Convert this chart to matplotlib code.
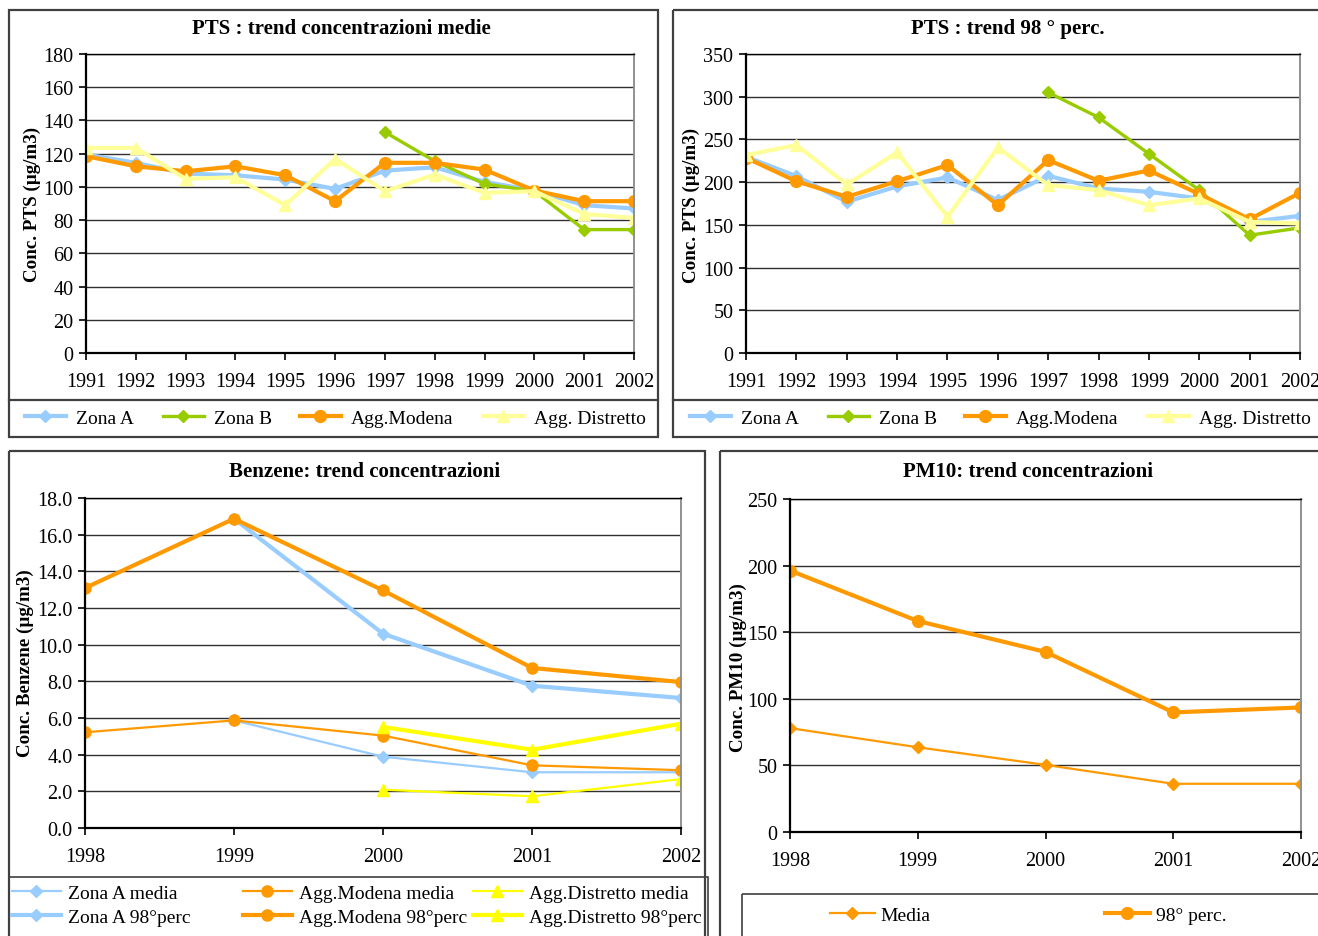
import numpy as np
import matplotlib
matplotlib.use("Agg")
import matplotlib.pyplot as plt
from matplotlib.patches import Rectangle
from matplotlib.legend import Legend

plt.rcParams['font.family'] = ['Liberation Serif', 'DejaVu Serif']

# ---- data -------------------------------------------------------------
years_pts = list(range(1991, 2003))
nan = np.nan

pts_mean_zona_a = [119.5, 114.5, 108, 107, 104.4, 98.8, 109.8, 111.8, 103, 97.8, 89, 87]
pts_mean_zona_b = [nan, nan, nan, nan, nan, nan, 133, 115.5, 101.8, 97.4, 74.3, 74.3]
pts_mean_modena = [118.5, 112.4, 109.4, 112.4, 107, 91.4, 114.5, 114.5, 110.4, 97.8, 91.4, 91.4]
pts_mean_distretto = [123.5, 123.5, 104.8, 105.8, 89, 116.9, 97.4, 107.4, 96.4, 97.4, 83.7, 81.3]

pts_p98_zona_a = [229.7, 207, 177, 195, 205.5, 179, 207.4, 192.6, 188.7, 180.9, 153.5, 160.5]
pts_p98_zona_b = [nan, nan, nan, nan, nan, nan, 305, 275.8, 233.2, 190.6, 137.9, 146.5]
pts_p98_modena = [228.5, 201, 182.8, 201, 220, 173, 225.8, 201.6, 213.7, 186, 156.6, 187.5]
pts_p98_distretto = [231.6, 243.4, 197.3, 234.8, 159.4, 240.6, 196.5, 190.6, 173, 180.9, 153.5, 151.6]

years_recent = [1998, 1999, 2000, 2001, 2002]
benz_zona_a_media = [nan, 5.87, 3.89, 3.04, 3.04]
benz_modena_media = [5.22, 5.87, 5.04, 3.42, 3.15]
benz_distretto_media = [nan, nan, 2.09, 1.73, 2.67]
benz_zona_a_p98 = [nan, 16.87, 10.6, 7.76, 7.09]
benz_modena_p98 = [13.09, 16.87, 12.96, 8.73, 7.96]
benz_distretto_p98 = [nan, nan, 5.51, 4.27, 5.69]

pm10_media = [78, 63.6, 50.4, 36.2, 36.2]
pm10_p98 = [196.3, 158.4, 135.2, 89.8, 93.5]

# ---- styling ----------------------------------------------------------
BLUE = '#99CCFF'
GREEN = '#99CC00'
ORANGE = '#FF9900'
PALE_YELLOW = '#FFFF99'
YELLOW = '#FFFF00'
FRAME = '#404040'

W, H = 1318, 937
fig = plt.figure(figsize=(W / 100, H / 100), dpi=100)


def px_rect(x0, y0, x1, y1):
    return [x0 / W, 1 - y1 / H, (x1 - x0) / W, (y1 - y0) / H]


def fig_pt(x, y):
    return (x / W, 1 - y / H)


# overlay used for the panel frames and the panel texts
ov = fig.add_axes([0, 0, 1, 1], zorder=-1)
ov.set_xlim(0, W)
ov.set_ylim(H, 0)
ov.axis('off')


def frame(x0, y0, x1, y1, lw=1.6):
    ov.add_patch(Rectangle((x0, y0), x1 - x0, y1 - y0, fill=False,
                           edgecolor=FRAME, lw=lw))


frame(9, 11, 658, 438)
ov.plot([9, 658], [401, 401], color=FRAME, lw=1.6)
frame(673, 11, 1330, 438)
ov.plot([673, 1330], [401, 401], color=FRAME, lw=1.6)
frame(9, 452, 705, 945)
frame(9, 878, 708, 945, lw=1.2)
frame(720, 452, 1330, 945)
frame(742, 895, 1330, 945, lw=1.2)

TICK_FS = 14.5
TITLE_FS = 15
YLAB_FS = 13.7
LEG_FS = 14


def style_axes(ax, ymax, ystep, xs, fmt=None):
    ax.set_xlim(xs[0], xs[-1])
    ax.set_ylim(0, ymax)
    ax.set_yticks(np.arange(0, ymax + ystep / 2, ystep))
    if fmt:
        ax.yaxis.set_major_formatter(plt.FormatStrFormatter(fmt))
    ax.set_xticks(xs)
    ax.set_xticklabels([str(x) for x in xs])
    ax.yaxis.grid(True, color='#303030', lw=1.0)
    ax.set_axisbelow(True)
    ax.spines['left'].set_color('black')
    ax.spines['left'].set_linewidth(1.6)
    ax.spines['bottom'].set_color('black')
    ax.spines['bottom'].set_linewidth(1.6)
    ax.spines['top'].set_color('black')
    ax.spines['top'].set_linewidth(1.0)
    ax.spines['right'].set_color('#909090')
    ax.spines['right'].set_linewidth(1.4)
    ax.tick_params(axis='both', direction='out', length=5, width=1.2,
                   labelsize=TICK_FS, colors='black')
    ax.tick_params(axis='x', pad=9)
    ax.tick_params(axis='y', pad=4)


def column_legends(ax, columns, lefts, y_center, handlelength=2.1,
                   handletextpad=0.5, labelspacing=0.3):
    """One legend per column, each anchored at its own left edge."""
    for handles, x in zip(columns, lefts):
        leg = Legend(ax, handles, [h.get_label() for h in handles],
                     loc='center left', bbox_to_anchor=fig_pt(x, y_center),
                     bbox_transform=fig.transFigure, frameon=False,
                     fontsize=LEG_FS, handlelength=handlelength,
                     handletextpad=handletextpad, borderpad=0,
                     borderaxespad=0, labelspacing=labelspacing)
        ax.add_artist(leg)


# ---- PTS mean ---------------------------------------------------------
ax1 = fig.add_axes(px_rect(86, 55, 634, 354))
a1 = ax1.plot(years_pts, pts_mean_zona_a, color=BLUE, lw=3, marker='D', ms=6.5, label='Zona A')[0]
b1 = ax1.plot(years_pts, pts_mean_zona_b, color=GREEN, lw=2.4, marker='D', ms=6.5, label='Zona B')[0]
m1 = ax1.plot(years_pts, pts_mean_modena, color=ORANGE, lw=3, marker='o', ms=8.5, label='Agg.Modena')[0]
d1 = ax1.plot(years_pts, pts_mean_distretto, color=PALE_YELLOW, lw=3, marker='^', ms=9, label='Agg. Distretto')[0]
style_axes(ax1, 180, 20, years_pts)
column_legends(ax1, [[a1], [b1], [m1], [d1]], [25, 163, 300, 483], 419)

# ---- PTS 98th percentile ---------------------------------------------
ax2 = fig.add_axes(px_rect(746, 55, 1300, 354))
a2 = ax2.plot(years_pts, pts_p98_zona_a, color=BLUE, lw=3, marker='D', ms=6.5, label='Zona A')[0]
b2 = ax2.plot(years_pts, pts_p98_zona_b, color=GREEN, lw=2.4, marker='D', ms=6.5, label='Zona B')[0]
m2 = ax2.plot(years_pts, pts_p98_modena, color=ORANGE, lw=3, marker='o', ms=8.5, label='Agg.Modena')[0]
d2 = ax2.plot(years_pts, pts_p98_distretto, color=PALE_YELLOW, lw=3, marker='^', ms=9, label='Agg. Distretto')[0]
style_axes(ax2, 350, 50, years_pts)
column_legends(ax2, [[a2], [b2], [m2], [d2]], [690, 828, 965, 1148], 419)

# ---- Benzene ----------------------------------------------------------
ax3 = fig.add_axes(px_rect(85, 499, 681, 829))
l_am = ax3.plot(years_recent, benz_zona_a_media, color=BLUE, lw=1.6, marker='D', ms=6.5, label='Zona A media')[0]
l_mm = ax3.plot(years_recent, benz_modena_media, color=ORANGE, lw=1.6, marker='o', ms=8, label='Agg.Modena media')[0]
l_dm = ax3.plot(years_recent, benz_distretto_media, color=YELLOW, lw=1.6, marker='^', ms=8.5, label='Agg.Distretto media')[0]
l_ap = ax3.plot(years_recent, benz_zona_a_p98, color=BLUE, lw=3, marker='D', ms=6.5, label='Zona A 98°perc')[0]
l_mp = ax3.plot(years_recent, benz_modena_p98, color=ORANGE, lw=3, marker='o', ms=8, label='Agg.Modena 98°perc')[0]
l_dp = ax3.plot(years_recent, benz_distretto_p98, color=YELLOW, lw=3, marker='^', ms=8.5, label='Agg.Distretto 98°perc')[0]
style_axes(ax3, 18, 2, years_recent, fmt='%.1f')
column_legends(ax3, [[l_am, l_ap], [l_mm, l_mp], [l_dm, l_dp]], [12, 243, 473], 906,
               handlelength=2.5, handletextpad=0.4, labelspacing=0.35)

# ---- PM10 -------------------------------------------------------------
ax4 = fig.add_axes(px_rect(790, 500, 1301, 833))
p_m = ax4.plot(years_recent, pm10_media, color=ORANGE, lw=1.6, marker='D', ms=6.5, label='Media')[0]
p_p = ax4.plot(years_recent, pm10_p98, color=ORANGE, lw=3, marker='o', ms=8.5, label='98° perc.')[0]
style_axes(ax4, 250, 50, years_recent)
column_legends(ax4, [[p_m], [p_p]], [830, 1105], 916, handlelength=2.3,
               handletextpad=0.3)

# ---- titles and axis labels -------------------------------------------
ov.text(341, 29, 'PTS : trend concentrazioni medie', ha='center', va='center',
        fontsize=TITLE_FS, fontweight='bold')
ov.text(1008, 29, 'PTS : trend 98 ° perc.', ha='center', va='center',
        fontsize=TITLE_FS, fontweight='bold')
ov.text(365, 472, 'Benzene: trend concentrazioni', ha='center', va='center',
        fontsize=TITLE_FS, fontweight='bold')
ov.text(1028, 472, 'PM10: trend concentrazioni', ha='center', va='center',
        fontsize=TITLE_FS, fontweight='bold')

ov.text(32, 204, 'Conc. PTS (µg/m3)', rotation=90, ha='center', va='center',
        fontsize=YLAB_FS, fontweight='bold')
ov.text(691, 205, 'Conc. PTS (µg/m3)', rotation=90, ha='center', va='center',
        fontsize=YLAB_FS, fontweight='bold')
ov.text(25, 663, 'Conc. Benzene (µg/m3)', rotation=90, ha='center', va='center',
        fontsize=YLAB_FS, fontweight='bold')
ov.text(738, 668, 'Conc. PM10 (µg/m3)', rotation=90, ha='center', va='center',
        fontsize=YLAB_FS, fontweight='bold')

fig.savefig('out.png', dpi=100)
